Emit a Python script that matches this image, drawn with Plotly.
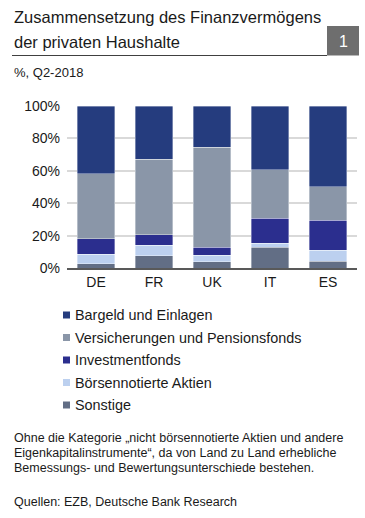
import plotly.graph_objects as go

countries = ["DE", "FR", "UK", "IT", "ES"]
series_names = ["Sonstige", "Börsennotierte Aktien", "Investmentfonds",
                "Versicherungen und Pensionsfonds", "Bargeld und Einlagen"]
sonstige = [2.7, 7.6, 3.9, 12.9, 4.1]
boersen = [5.9, 6.3, 4.1, 2.3, 7.0]
investment = [9.6, 6.6, 4.9, 15.5, 18.4]
versicherungen = [40.0, 46.7, 61.7, 29.8, 20.7]
bargeld = [41.8, 32.8, 25.4, 39.5, 49.8]
series_values = [sonstige, boersen, investment, versicherungen, bargeld]
colors = ["#626E85", "#BCD0EF", "#2B2E8E", "#8A96A8", "#253C7E"]
y_ticks = [0, 20, 40, 60, 80, 100]
y_ticklabels = ["0%", "20%", "40%", "60%", "80%", "100%"]

W, H = 365, 518
L, R, T, B = 67, 8, 106, 250
pw, ph = W - L - R, H - T - B

def px(x):
    return (x - L) / pw

def py(y):
    return (H - B - y) / ph

FONT = "Liberation Sans, Arial, sans-serif"
fig = go.Figure()
for name, vals, col in zip(series_names, series_values, colors):
    fig.add_trace(go.Bar(x=countries, y=vals, name=name, marker_color=col,
                         marker_line=dict(width=0.6, color="rgba(255,255,255,0.6)"),
                         showlegend=False))

fig.update_layout(
    width=W, height=H, barmode="stack", bargap=0.36,
    margin=dict(l=L, r=R, t=T, b=B),
    paper_bgcolor="white", plot_bgcolor="white",
    font=dict(family=FONT, size=14, color="#1a1a1a"),
    xaxis=dict(showline=True, linecolor="#595959", linewidth=2, ticks="",
               tickfont=dict(size=14), fixedrange=True),
    yaxis=dict(range=[0, 100], tickvals=y_ticks, ticktext=y_ticklabels,
               showgrid=True, gridcolor="#D9D9D9", gridwidth=2, zeroline=False,
               ticks="", ticklabelstandoff=6, tickfont=dict(size=14), fixedrange=True),
)

shapes = []
ann = []
# title
ann.append(dict(text="Zusammensetzung des Finanzvermögens", x=px(12), y=py(17),
                xanchor="left", yanchor="middle", font=dict(size=16.5)))
ann.append(dict(text="der privaten Haushalte", x=px(12), y=py(42),
                xanchor="left", yanchor="middle", font=dict(size=16.5)))
shapes.append(dict(type="line", x0=px(12), x1=px(327), y0=py(55.5), y1=py(55.5),
                   line=dict(color="#404040", width=1)))
shapes.append(dict(type="rect", x0=px(327), x1=px(359), y0=py(26), y1=py(55.5),
                   fillcolor="#6E6E6E", line=dict(width=0)))
ann.append(dict(text="1", x=px(343), y=py(41), xanchor="center", yanchor="middle",
                font=dict(size=16, color="white")))
ann.append(dict(text="%, Q2-2018", x=px(12), y=py(72), xanchor="left", yanchor="middle",
                font=dict(size=13)))
# legend (manual, top item first)
for i, (name, col) in enumerate(zip(series_names[::-1], colors[::-1])):
    yc = 315 + i * 22.5
    shapes.append(dict(type="rect", x0=px(63), x1=px(70), y0=py(yc - 3.5), y1=py(yc + 3.5),
                       fillcolor=col, line=dict(width=0)))
    ann.append(dict(text=name, x=px(73), y=py(yc), xanchor="left", yanchor="middle",
                    font=dict(size=14.4)))
# footnote
notes = ["Ohne die Kategorie „nicht börsennotierte Aktien und andere",
         "Eigenkapitalinstrumente“, da von Land zu Land erhebliche",
         "Bemessungs- und Bewertungsunterschiede bestehen."]
for i, t in enumerate(notes):
    ann.append(dict(text=t, x=px(12), y=py(438 + 15 * i), xanchor="left", yanchor="middle",
                    font=dict(size=12.5)))
ann.append(dict(text="Quellen: EZB, Deutsche Bank Research", x=px(12), y=py(502),
                xanchor="left", yanchor="middle", font=dict(size=12.5)))
for a in ann:
    a.update(xref="paper", yref="paper", showarrow=False)
for s in shapes:
    s.update(xref="paper", yref="paper")
fig.update_layout(annotations=ann, shapes=shapes)
fig.write_html("out.html", config={"displayModeBar": False},
               post_script="document.body.style.margin='0';document.body.style.overflow='hidden';")
